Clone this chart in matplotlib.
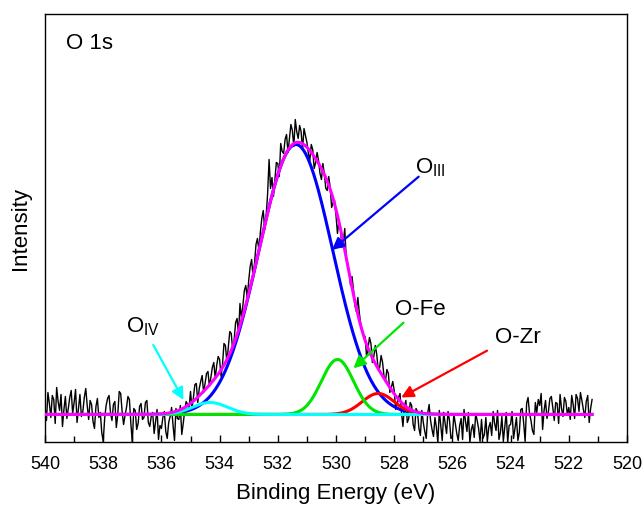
import numpy as np
import matplotlib
matplotlib.use("Agg")
import matplotlib.pyplot as plt

plt.rcParams['font.family'] = ['Liberation Sans', 'DejaVu Sans']
plt.rcParams['mathtext.fontset'] = 'custom'
plt.rcParams['mathtext.rm'] = 'Liberation Sans'
plt.rcParams['mathtext.it'] = 'Liberation Sans:italic'

# O 1s spectrum (background subtracted, a.u.), 0.05 eV steps from 540.00 down to 521.20 eV
# one row = 1 eV
be_start, be_stop = 540.0, 521.2
counts = [
    8, -6, 22, 11, -3, 19, 15, -9, 27, 13, 4, 20, -12, 5, 18, -4, 6, 17, 24, 1,
    12, 25, -8, 6, 20, -2, 3, 17, 26, 9, -5, 14, 10, -7, -14, 8, 16, -3, 2, -18,
    -27, -4, 9, 16, 19, 2, -6, 10, 13, -13, 0, 23, 21, 3, -10, -1, 7, 18, 15, -9,
    -28, 6, 4, -15, -9, 8, 11, -5, -3, 12, 14, -8, -12, -2, 2, -19, -7, 5, -25, -11,
    -14, -3, 3, -17, -24, -8, -2, 7, -11, -26, 6, -4, -5, 9, -20, -9, 4, 13, 10, 6,
    23, 6, 17, 30, 31, 12, 26, 33, 39, 22, 31, 41, 43, 28, 37, 47, 52, 36, 49, 58,
    55, 38, 50, 71, 69, 52, 67, 83, 81, 64, 75, 92, 96, 80, 111, 96, 109, 124, 129, 116,
    134, 148, 155, 137, 151, 170, 176, 164, 182, 196, 204, 185, 199, 221, 255, 226, 237, 218, 235, 252,
    251, 238, 271, 263, 261, 275, 280, 262, 276, 290, 284, 268, 295, 283, 276, 289, 283, 265, 286, 279,
    272, 261, 254, 270, 265, 246, 252, 262, 254, 241, 235, 251, 240, 226, 224, 238, 227, 207, 212, 214,
    199, 181, 193, 188, 167, 172, 186, 157, 150, 143, 129, 138, 125, 109, 103, 117, 102, 90, 85, 79,
    78, 58, 66, 77, 71, 52, 58, 69, 60, 45, 47, 59, 52, 38, 34, 45, 41, 22, 27, 33,
    24, 5, 10, 17, 21, 2, -12, 8, 14, -8, -4, 12, 9, -10, -16, 6, 3, -14, -21, 4,
    -8, -17, -24, 1, 10, -6, -15, -22, -3, -13, -28, 4, -11, -26, 2, -9, -19, 3, -6, -24,
    -22, 0, -9, -19, -26, -11, -4, -25, 5, -7, -17, 2, -28, -15, -10, -23, 1, -6, -14, -27,
    -5, -24, -20, -3, -27, -13, -8, -21, 3, -9, -16, 4, -25, -18, -2, -27, -12, 2, -28, -11,
    -10, 3, -24, -14, -3, -26, -18, 5, 6, -9, -27, 11, 17, 1, -6, -16, -20, 12, 2, 15,
    9, 21, -15, 4, 14, -4, 3, 16, 18, 7, -6, 12, 11, -9, 20, 6, -2, 17, 13, 0,
    7, -5, 19, 10, -4, 20, 16, 3, 22, 14, 5, -3, 13, 19, -8, 6, 15,
]

# fitted peak components (Gaussian)
peak_names = [r'O$_{\mathrm{III}}$', 'O-Fe', 'O-Zr', r'O$_{\mathrm{IV}}$']
peak_centers = [531.38, 529.95, 528.55, 534.33]
peak_heights = [270, 55, 21, 12]
peak_fwhm = [2.99, 1.30, 1.30, 1.41]
peak_colors = ['#0000ff', '#00e600', '#ff0000', '#00ffff']
envelope_color = '#ff00ff'


def gaussian(x, center, height, fwhm):
    sigma = fwhm / 2.3548
    return height * np.exp(-(x - center) ** 2 / (2 * sigma ** 2))


energy = np.linspace(be_start, be_stop, len(counts))
fit_x = np.linspace(be_start, be_stop, 1200)
components = [gaussian(fit_x, c, h, w) for c, h, w in zip(peak_centers, peak_heights, peak_fwhm)]
envelope = np.sum(components, axis=0)

fig = plt.figure(figsize=(6.44, 5.05), dpi=100)
ax = fig.add_axes([0.0699, 0.1248, 0.9037, 0.8465])

ax.plot(energy, counts, color='black', lw=1.0, zorder=2)
draw_order = [0, 2, 1, 3]
for i in draw_order:
    ax.plot(fit_x, components[i], color=peak_colors[i], lw=2.2, zorder=3 + draw_order.index(i))
ax.plot(fit_x, envelope, color=envelope_color, lw=2.2, zorder=8)

# labels with arrows: (text pos, arrow tail, arrow head)
label_layout = [
    ((527.28, 241.5), (527.16, 237.8), (530.14, 164.5)),
    ((527.96, 99.5), (527.68, 91.8), (529.40, 46.2)),
    ((524.53, 71.5), (524.81, 63.8), (527.76, 17.0)),
    ((537.21, 82.5), (536.28, 69.5), (535.24, 14.5)),
]
for name, color, (tpos, tail, head) in zip(peak_names, peak_colors, label_layout):
    ax.text(tpos[0], tpos[1], name, fontsize=16, ha='left', va='baseline', zorder=10)
    ax.annotate('', xy=head, xytext=tail, zorder=9,
                arrowprops=dict(arrowstyle='-|>,head_length=0.6,head_width=0.3',
                                color=color, lw=1.6, mutation_scale=12,
                                shrinkA=0, shrinkB=0))

ax.text(0.036, 0.919, 'O 1s', transform=ax.transAxes, fontsize=16,
        ha='left', va='baseline')

ax.set_xlim(540, 520)
ax.set_ylim(-27.5, 400)
ax.set_xticks(np.arange(540, 519, -2))
ax.set_xticks(np.arange(539, 520, -2), minor=True)
ax.set_yticks([])
ax.tick_params(axis='x', which='both', direction='in', top=False, labelsize=13, pad=10)
ax.tick_params(axis='x', which='major', length=5, width=1)
ax.tick_params(axis='x', which='minor', length=4, width=1)
for sp in ax.spines.values():
    sp.set_linewidth(1.0)

ax.set_xlabel('Binding Energy (eV)', fontsize=16, labelpad=7)
ax.set_ylabel('Intensity', fontsize=16, labelpad=10)

fig.savefig('out.png', dpi=100)
